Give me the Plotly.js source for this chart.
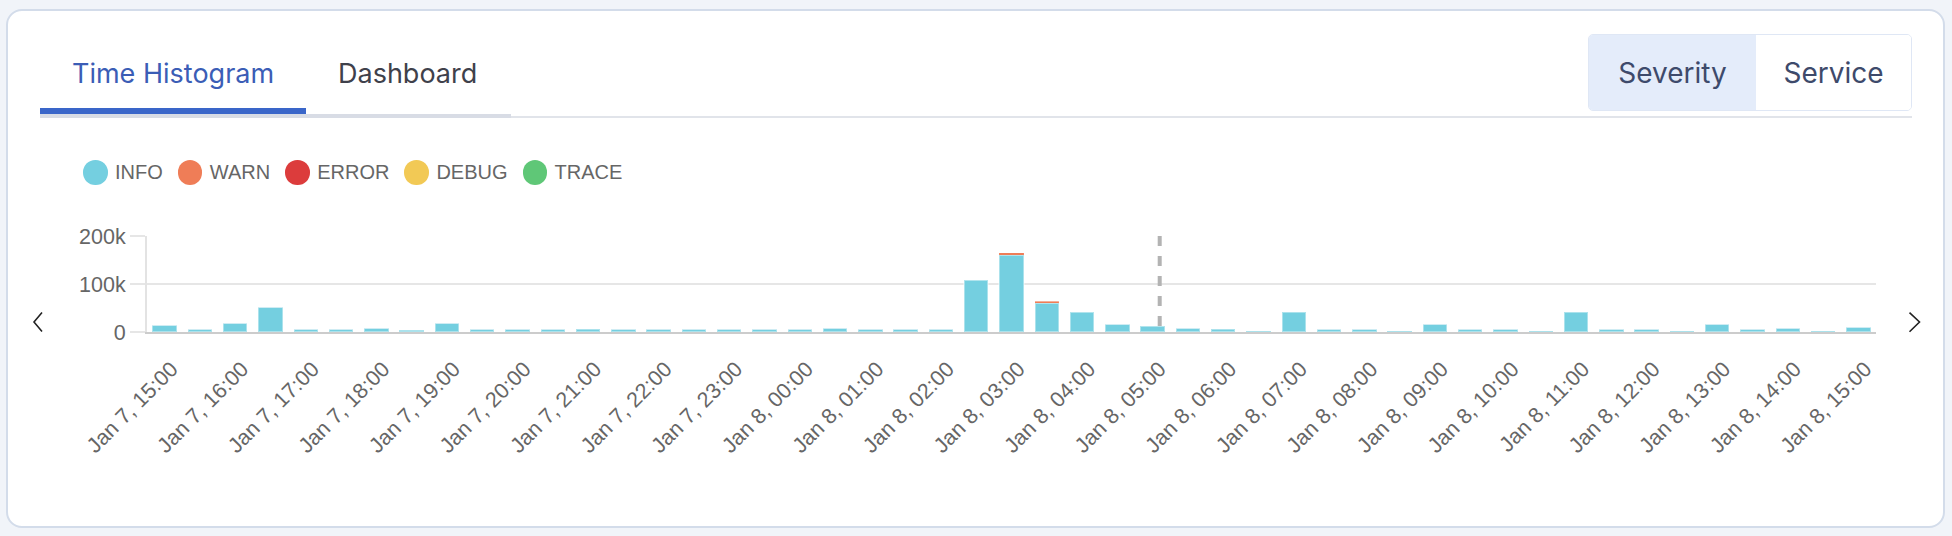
<!DOCTYPE html>
<html>
<head>
<meta charset="utf-8">
<script src="https://cdn.plot.ly/plotly-3.0.1.min.js"></script>
<style>
html,body{margin:0;padding:0;width:1952px;height:536px;background:#f1f4f9;overflow:hidden;font-family:Inter,"Noto Sans",sans-serif;}
#card{position:absolute;left:6px;top:9px;width:1939px;height:519px;background:#fff;border:2px solid #d3dcea;border-radius:16px;box-sizing:border-box;}
.tab{position:absolute;top:59.5px;font-size:27px;line-height:28px;white-space:nowrap;}
#tab1{left:72px;color:#3b5db6;}
#tab2{left:338px;color:#3f414b;}
#lineThin{position:absolute;left:40px;top:116px;width:1872px;height:2px;background:#e1e4ea;}
#lineTabs{position:absolute;left:40px;top:114px;width:471px;height:4px;background:#d8dce5;}
#lineActive{position:absolute;left:40px;top:108px;width:266px;height:6px;background:#3a66c9;}
#toggle{position:absolute;left:1588px;top:34px;width:324px;height:77px;border:1.5px solid #dfe7f5;border-radius:5px;box-sizing:border-box;overflow:hidden;display:flex;}
#toggle div{height:100%;display:flex;align-items:center;justify-content:center;font-size:28px;color:#3e4a6b;}
#tSev{width:167px;background:#e4ecfa;}
#tSrv{flex:1;background:#fff;}
#legend{position:absolute;left:83px;top:160px;height:25px;display:flex;align-items:center;font-family:"Liberation Sans",Arial,sans-serif;font-size:20px;color:#666;}
.li{display:flex;align-items:center;margin-right:15px;}
.dot{width:24.5px;height:24.5px;border-radius:50%;margin-right:7.5px;}
#plot{position:absolute;left:0;top:0;width:1952px;height:536px;}
#arrows{position:absolute;left:0;top:0;}
</style>
</head>
<body>
<div id="card"></div>
<div class="tab" id="tab1">Time Histogram</div>
<div class="tab" id="tab2">Dashboard</div>
<div id="lineThin"></div>
<div id="lineTabs"></div>
<div id="lineActive"></div>
<div id="toggle"><div id="tSev">Severity</div><div id="tSrv">Service</div></div>
<div id="legend"></div>
<div id="plot"></div>
<svg id="arrows" width="1952" height="536">
  <polyline points="42,312.5 34,322 42,331.5" fill="none" stroke="#222" stroke-width="1.6"/>
  <polyline points="1909.5,312.7 1919.5,322 1909.5,331.7" fill="none" stroke="#222" stroke-width="1.6"/>
</svg>
<script>
// ---- data ----
var bucketTimes = [
  '2024-01-07 15:00','2024-01-07 15:30','2024-01-07 16:00','2024-01-07 16:30','2024-01-07 17:00','2024-01-07 17:30',
  '2024-01-07 18:00','2024-01-07 18:30','2024-01-07 19:00','2024-01-07 19:30','2024-01-07 20:00','2024-01-07 20:30',
  '2024-01-07 21:00','2024-01-07 21:30','2024-01-07 22:00','2024-01-07 22:30','2024-01-07 23:00','2024-01-07 23:30',
  '2024-01-08 00:00','2024-01-08 00:30','2024-01-08 01:00','2024-01-08 01:30','2024-01-08 02:00','2024-01-08 02:30',
  '2024-01-08 03:00','2024-01-08 03:30','2024-01-08 04:00','2024-01-08 04:30','2024-01-08 05:00','2024-01-08 05:30',
  '2024-01-08 06:00','2024-01-08 06:30','2024-01-08 07:00','2024-01-08 07:30','2024-01-08 08:00','2024-01-08 08:30',
  '2024-01-08 09:00','2024-01-08 09:30','2024-01-08 10:00','2024-01-08 10:30','2024-01-08 11:00','2024-01-08 11:30',
  '2024-01-08 12:00','2024-01-08 12:30','2024-01-08 13:00','2024-01-08 13:30','2024-01-08 14:00','2024-01-08 14:30',
  '2024-01-08 15:00'
];
var severityNames = ['INFO','WARN','ERROR','DEBUG','TRACE'];
var severityColors = ['#74cfe0','#ef7d57','#dc3c3c','#f2c955','#5fc777'];
var infoCounts = [14000,6000,18000,52000,6000,6000,8000,5000,18000,6000,6000,6000,6500,6000,6000,6000,6000,6000,6000,7500,
  6000,6000,6000,108000,160000,60000,41000,16500,12000,8000,7000,3000,42500,6000,6000,3000,16500,6000,6000,3000,
  42500,6000,6000,3000,16000,6000,7500,3000,9500];
var warnCounts = [0,0,0,0,0,0,0,0,0,0,0,0,0,0,0,0,0,0,0,0,0,0,0,1000,5500,4000,800,0,1500,0,0,0,0,0,0,0,0,0,0,0,0,0,0,0,0,0,0,0,0];
var errorCounts = [0,0,0,0,0,0,0,0,0,0,0,0,0,0,0,0,0,0,0,0,0,0,0,0,0,0,0,0,0,0,0,0,0,0,0,0,0,0,0,0,0,0,0,0,0,0,0,0,0];
var debugCounts = [0,0,0,0,0,0,0,0,0,0,0,0,0,0,0,0,0,0,0,0,0,0,0,0,0,0,0,0,0,0,0,0,0,0,0,0,0,0,0,0,0,0,0,0,0,0,0,0,0];
var traceCounts = [0,0,0,0,0,0,0,0,0,0,0,0,0,0,0,0,0,0,0,0,0,0,0,0,0,0,0,0,0,0,0,0,0,0,0,0,0,0,0,0,0,0,0,0,0,0,0,0,0];
var nowMarkerTime = '2024-01-08 05:06';
var xRange = ['2024-01-07 14:45','2024-01-08 15:15'];
var yMax = 200000;
var yStep = 100000;
var bucketMs = 30 * 60 * 1000;

// ---- legend (HTML) ----
var leg = document.getElementById('legend');
severityNames.forEach(function(n, i){
  var it = document.createElement('div'); it.className = 'li';
  var d = document.createElement('div'); d.className = 'dot'; d.style.background = severityColors[i];
  var t = document.createElement('span'); t.textContent = n;
  it.appendChild(d); it.appendChild(t); leg.appendChild(it);
});

// ---- chart ----
var seriesValues = [infoCounts, warnCounts, errorCounts, debugCounts, traceCounts];
var traces = seriesValues.map(function(vals, i){
  return {
    type: 'bar', name: severityNames[i], x: bucketTimes, y: vals,
    width: bucketMs * 0.69,
    marker: {color: severityColors[i],
             line: i === 0 ? {color: 'rgba(255,255,255,0.4)', width: 2} : {color: 'rgba(255,255,255,0.15)', width: 0.5}},
    showlegend: false, hoverinfo: 'skip'
  };
});

var font = 'Liberation Sans, Arial, sans-serif';
var layout = {
  width: 1952, height: 536,
  margin: {l: 147, r: 76, t: 236, b: 204, pad: 0},
  paper_bgcolor: 'rgba(0,0,0,0)', plot_bgcolor: 'rgba(0,0,0,0)',
  barmode: 'stack',
  showlegend: false,
  xaxis: {
    type: 'date', range: xRange, showgrid: false, zeroline: false,
    showline: true, linecolor: '#cccccc', linewidth: 2,
    ticks: '', tickmode: 'linear', tick0: bucketTimes[0], dtick: 2 * bucketMs,
    tickformat: '%b %-d, %H:%M', tickangle: -45,
    tickfont: {family: font, size: 21.5, color: '#666'},
    ticklabelstandoff: 14, ticklabelshift: 7,
    fixedrange: true
  },
  yaxis: {
    range: [0, yMax], tickmode: 'linear', tick0: 0, dtick: yStep, tickformat: '~s',
    showgrid: true, gridcolor: '#e6e6e6', gridwidth: 2, zeroline: false,
    showline: true, linecolor: '#e3e3e3', linewidth: 2,
    ticks: 'outside', ticklen: 15, tickwidth: 2, tickcolor: '#e6e6e6',
    tickfont: {family: font, size: 21.5, color: '#666'},
    fixedrange: true
  },
  shapes: [{
    type: 'line', xref: 'x', yref: 'paper', x0: nowMarkerTime, x1: nowMarkerTime, y0: 1, y1: 0,
    line: {color: '#b3b3b3', width: 4, dash: '10px,10px'}, layer: 'above'
  }]
};

Plotly.newPlot('plot', traces, layout, {staticPlot: true, displayModeBar: false});
</script>
</body>
</html>
